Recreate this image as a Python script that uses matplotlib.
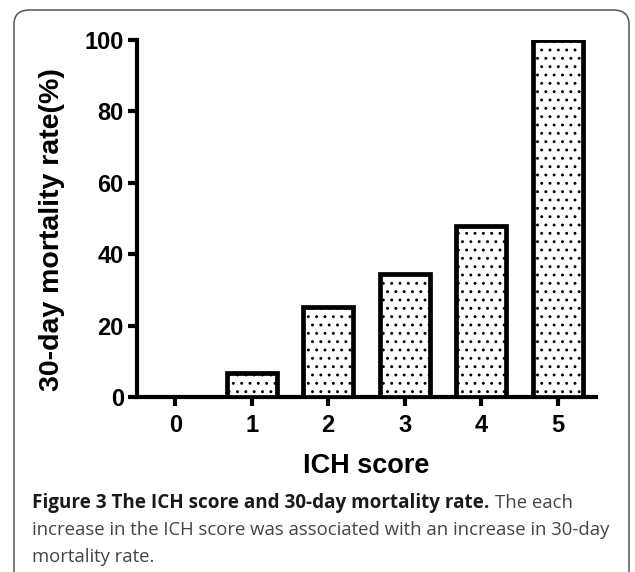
import matplotlib
matplotlib.use("Agg")
import matplotlib.pyplot as plt
from matplotlib.patches import FancyBboxPatch

scores = [0, 1, 2, 3, 4, 5]
mortality = [0, 6.7, 25.2, 34.5, 48.0, 100.0]
yticks = [0, 20, 40, 60, 80, 100]

plt.rcParams['hatch.color'] = '#333333'
plt.rcParams['hatch.linewidth'] = 0.9

W, H = 635, 572
fig = plt.figure(figsize=(W/100, H/100), dpi=100)
ax = fig.add_axes([137/W, 1-397/H, (596-137)/W, (397-40)/H])

lws = [0 if v == 0 else 3.4 for v in mortality]
ax.bar(scores, mortality, width=0.66, facecolor='white', edgecolor='black',
       linewidth=lws, hatch='..', zorder=3)
ax.set_xlim(-0.5, 5.5)
ax.set_ylim(0, 100)
ax.set_xticks(scores)
ax.set_yticks(yticks)
for s in ['top', 'right']:
    ax.spines[s].set_visible(False)
for s in ['left', 'bottom']:
    ax.spines[s].set_linewidth(3.0)
    ax.spines[s].set_capstyle('projecting')
ax.tick_params(axis='y', width=3.0, length=6.5, direction='out', labelsize=17, pad=3)
ax.tick_params(axis='x', width=3.0, length=6.5, direction='out', labelsize=17, pad=6)
for lab in ax.get_xticklabels() + ax.get_yticklabels():
    lab.set_fontfamily('Liberation Sans')
    lab.set_fontweight('bold')

fig.text(366/W, 1-466/H, 'ICH score', fontsize=19.5, fontweight='bold',
         family='Liberation Sans', ha='center', va='center')
fig.text(52/W, 1-230/H, '30-day mortality rate(%)', fontsize=20.5, fontweight='bold',
         family='Liberation Sans', ha='center', va='center', rotation=90)

# frame
frame = FancyBboxPatch((14/W, -0.1), (629-14)/W, 1.1 - 10/H,
                       boxstyle="round,pad=0,rounding_size=0.025",
                       transform=fig.transFigure, facecolor='none',
                       edgecolor='#555555', linewidth=1.1, clip_on=False)
fig.patches.append(frame)

# caption
fam = 'Open Sans'
t1 = fig.text(32/W, 1-508/H, 'Figure 3 The ICH score and 30-day mortality rate.',
              fontsize=13.6, fontweight='bold', family=fam, color='#1a1a1a', va='baseline')
fig.canvas.draw()
bb = t1.get_window_extent()
x2 = (bb.x1 + 6) / W
fig.text(x2, 1-508/H, 'The each', fontsize=13.3, family=fam, color='#444444', va='baseline')
fig.text(32/W, 1-535/H, 'increase in the ICH score was associated with an increase in 30-day',
         fontsize=13.3, family=fam, color='#444444', va='baseline')
fig.text(32/W, 1-562/H, 'mortality rate.', fontsize=13.3, family=fam, color='#444444', va='baseline')

fig.savefig('out.png', dpi=100)
